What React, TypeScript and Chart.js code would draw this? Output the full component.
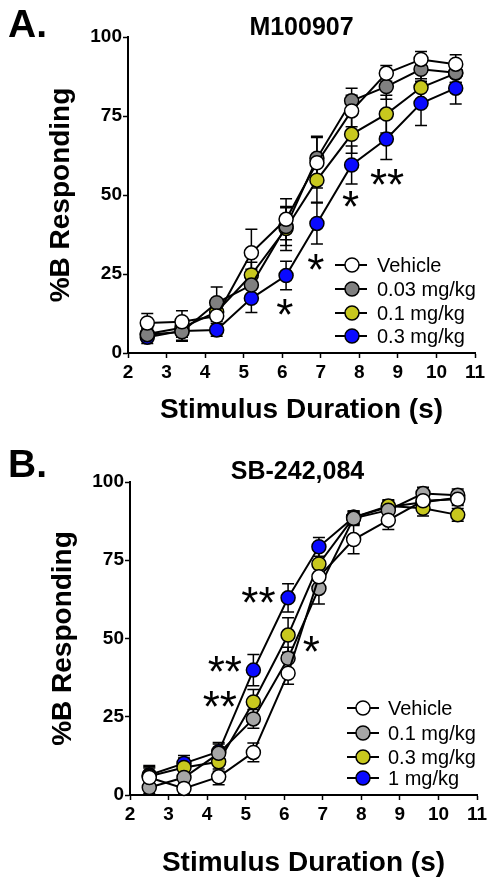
import React, { useEffect, useRef } from 'react';
import { Chart, registerables } from 'chart.js';

Chart.register(...registerables);

// ---------- shared data ----------
const DURATIONS = [2.5, 3.4, 4.3, 5.2, 6.1, 6.9, 7.8, 8.7, 9.6, 10.5];
const X_TICKS = [2, 3, 4, 5, 6, 7, 8, 9, 10, 11];
const Y_TICKS = [0, 25, 50, 75, 100];

// ---------- panel A: M100907 ----------
const A_TITLE = 'M100907';
const A_LABELS = ['Vehicle', '0.03 mg/kg', '0.1 mg/kg', '0.3 mg/kg'];
const A_VEHICLE = [9.5, 9.9, 11.7, 31.7, 42.3, 60.2, 76.6, 88.5, 92.9, 91.4];
const A_VEHICLE_ERR = [3, 3.5, 3, 7.5, 6.5, 8, 5, 2.5, 2.5, 3];
const A_DOSE1 = [5.8, 6.7, 15.9, 21.5, 40, 61.6, 79.8, 84.3, 89.8, 88.7];
const A_DOSE1_ERR = [2, 3, 5, 5, 6, 7, 4, 4, 3, 3];
const A_DOSE2 = [6, 8, 13, 24.7, 39.4, 54.7, 69.2, 75.6, 84, 88.5];
const A_DOSE2_ERR = [2, 3, 3, 4, 7, 7, 6, 6, 5, 3];
const A_DOSE3 = [5, 7, 7.3, 17.3, 24.5, 41, 59.5, 67.7, 79, 83.8];
const A_DOSE3_ERR = [2, 3, 2, 4.5, 4.5, 6.5, 6, 6.5, 7, 5];
const A_STAR_X = [6.07, 6.87, 7.77, 8.72];
const A_STAR_Y = [15.2, 29.4, 49.5, 56.3];
const A_STAR_TEXT = ['*', '*', '*', '**'];

// ---------- panel B: SB-242,084 ----------
const B_TITLE = 'SB-242,084';
const B_LABELS = ['Vehicle', '0.1 mg/kg', '0.3 mg/kg', '1 mg/kg'];
const B_VEHICLE = [5.6, 2.1, 5.8, 13.6, 38.9, 69.7, 81.6, 87.8, 94, 94.5];
const B_VEHICLE_ERR = [3, 1.5, 2.5, 3, 3.5, 4, 4.5, 3, 3, 2];
const B_DOSE1 = [2.4, 5.6, 13.3, 24.3, 43.7, 66, 88.4, 91, 96.3, 95.8];
const B_DOSE1_ERR = [2, 3, 3, 3, 3.5, 5, 2, 2, 2, 2];
const B_DOSE2 = [6, 8.8, 10.6, 29.7, 51.1, 73.8, 88.7, 92.3, 91.6, 89.5];
const B_DOSE2_ERR = [3, 3, 3, 4, 5.5, 4.5, 2, 2, 2.5, 2];
const B_DOSE3 = [6.4, 10.1, 13.8, 39.9, 63, 79.3, 88.7, 92, 93.5, 95];
const B_DOSE3_ERR = [3, 2.5, 3, 5, 4.5, 3, 2, 2, 2, 2];
const B_STAR_X = [4.33, 4.46, 5.33, 6.7];
const B_STAR_Y = [31.3, 42.5, 64.4, 49];
const B_STAR_TEXT = ['**', '**', '**', '*'];

const FONT = '"Liberation Sans", Arial, Helvetica, sans-serif';

type PanelCfg = {
  letter: string;
  title: string;
  labels: string[];
  series: number[][];
  errors: number[][];
  colors: string[];
  starX: number[];
  starY: number[];
  starText: string[];
  width: number;
  height: number;
  left: number;
  top: number;
  right: number;
  bottom: number;
  yTitlePad: number;
  xTitlePad: number;
  titleY: number;
  titleDX: number;
  letterY: number;
  legendDX: number[];
  legendRows: number[];
};

function makePlugin(cfg: PanelCfg) {
  return {
    id: 'panelExtras',
    beforeDatasetsDraw(chart: any) {
      const ctx = chart.ctx;
      const xs = chart.scales.x;
      const ys = chart.scales.y;
      ctx.save();
      ctx.strokeStyle = '#000';
      ctx.lineWidth = 1.5;
      for (let s = cfg.series.length - 1; s >= 0; s--) {
        const vals = cfg.series[s];
        const errs = cfg.errors[s];
        for (let i = 0; i < vals.length; i++) {
          const px = xs.getPixelForValue(DURATIONS[i]);
          const yTop = ys.getPixelForValue(vals[i] + errs[i]);
          const yBot = ys.getPixelForValue(vals[i] - errs[i]);
          ctx.beginPath();
          ctx.moveTo(px, yTop);
          ctx.lineTo(px, yBot);
          ctx.moveTo(px - 6, yTop);
          ctx.lineTo(px + 6, yTop);
          ctx.moveTo(px - 6, yBot);
          ctx.lineTo(px + 6, yBot);
          ctx.stroke();
        }
      }
      ctx.restore();
    },
    afterDraw(chart: any) {
      const ctx = chart.ctx;
      const area = chart.chartArea;
      const xs = chart.scales.x;
      const ys = chart.scales.y;
      ctx.save();
      ctx.fillStyle = '#000';
      ctx.font = `bold 39px ${FONT}`;
      ctx.textAlign = 'left';
      ctx.textBaseline = 'alphabetic';
      ctx.fillText(cfg.letter, 8, cfg.letterY);
      ctx.font = `bold 25px ${FONT}`;
      ctx.textAlign = 'center';
      ctx.textBaseline = 'middle';
      ctx.fillText(cfg.title, (area.left + area.right) / 2 + cfg.titleDX, cfg.titleY);
      ctx.font = `44px ${FONT}`;
      ctx.textAlign = 'center';
      ctx.textBaseline = 'alphabetic';
      for (let i = 0; i < cfg.starX.length; i++) {
        const px = xs.getPixelForValue(cfg.starX[i]);
        const py = ys.getPixelForValue(cfg.starY[i]);
        ctx.fillText(cfg.starText[i], px, py + 25);
      }
      const [l0, lm, l1, lt] = cfg.legendDX;
      for (let i = 0; i < cfg.labels.length; i++) {
        const y = area.bottom + cfg.legendRows[i];
        ctx.strokeStyle = '#000';
        ctx.lineWidth = 2;
        ctx.beginPath();
        ctx.moveTo(area.right + l0, y);
        ctx.lineTo(area.right + l1, y);
        ctx.stroke();
        ctx.beginPath();
        ctx.arc(area.right + lm, y, 7, 0, Math.PI * 2);
        ctx.fillStyle = cfg.colors[i];
        ctx.fill();
        ctx.lineWidth = 1.5;
        ctx.stroke();
        ctx.fillStyle = '#000';
        ctx.font = `20px ${FONT}`;
        ctx.textAlign = 'left';
        ctx.textBaseline = 'middle';
        ctx.fillText(cfg.labels[i], area.right + lt, y + 1);
      }
      ctx.restore();
    },
  };
}

function Panel({ cfg }: { cfg: PanelCfg }) {
  const ref = useRef<HTMLCanvasElement | null>(null);
  useEffect(() => {
    if (!ref.current) return;
    const datasets = cfg.series.map((vals, s) => ({
      label: cfg.labels[s],
      data: vals.map((v, i) => ({ x: DURATIONS[i], y: v })),
      borderColor: '#000',
      borderWidth: 2,
      pointRadius: 7,
      pointHoverRadius: 7,
      pointBorderWidth: 1.5,
      pointBorderColor: '#000',
      pointBackgroundColor: cfg.colors[s],
      backgroundColor: cfg.colors[s],
      tension: 0,
      fill: false,
      clip: false as any,
    }));
    const chart = new Chart(ref.current, {
      type: 'line',
      data: { datasets },
      options: {
        responsive: false,
        animation: false,
        events: [],
        layout: { padding: { top: cfg.top, right: cfg.right, left: 0, bottom: 0 } },
        plugins: {
          legend: { display: false },
          title: { display: false },
          tooltip: { enabled: false },
        },
        scales: {
          x: {
            type: 'linear',
            min: 2,
            max: 11,
            afterBuildTicks: (s: any) => {
              s.ticks = X_TICKS.map((v) => ({ value: v }));
            },
            afterFit: (s: any) => {
              s.height = cfg.bottom;
            },
            ticks: {
              autoSkip: false,
              maxRotation: 0,
              padding: 3,
              color: '#000',
              font: { family: FONT, size: 19, weight: 'bold' },
            },
            grid: {
              display: true,
              drawOnChartArea: false,
              drawTicks: true,
              tickLength: 5,
              tickColor: '#000',
              tickWidth: 1.5,
            },
            border: { display: true, color: '#000', width: 2 },
            title: {
              display: true,
              text: 'Stimulus Duration (s)',
              color: '#000',
              font: { family: FONT, size: 28, weight: 'bold' },
              padding: { top: 0, bottom: cfg.xTitlePad },
            },
          },
          y: {
            type: 'linear',
            min: 0,
            max: 100,
            afterBuildTicks: (s: any) => {
              s.ticks = Y_TICKS.map((v) => ({ value: v }));
            },
            afterFit: (s: any) => {
              s.width = cfg.left;
            },
            ticks: {
              padding: 1,
              color: '#000',
              font: { family: FONT, size: 19, weight: 'bold' },
            },
            grid: {
              display: true,
              drawOnChartArea: false,
              drawTicks: true,
              tickLength: 5,
              tickColor: '#000',
              tickWidth: 1.5,
            },
            border: { display: true, color: '#000', width: 2 },
            title: {
              display: true,
              text: '%B Responding',
              color: '#000',
              font: { family: FONT, size: 28, weight: 'bold' },
              padding: { top: cfg.yTitlePad, bottom: 0 },
            },
          },
        },
      } as any,
      plugins: [makePlugin(cfg) as any],
    });
    return () => chart.destroy();
  }, [cfg]);
  return (
    <canvas
      ref={ref}
      width={cfg.width}
      height={cfg.height}
      style={{ display: 'block', width: cfg.width, height: cfg.height }}
    />
  );
}

const PANEL_A: PanelCfg = {
  letter: 'A.',
  title: A_TITLE,
  labels: A_LABELS,
  series: [A_VEHICLE, A_DOSE1, A_DOSE2, A_DOSE3],
  errors: [A_VEHICLE_ERR, A_DOSE1_ERR, A_DOSE2_ERR, A_DOSE3_ERR],
  colors: ['#ffffff', '#808080', '#c8c81e', '#0a0aff'],
  starX: A_STAR_X,
  starY: A_STAR_Y,
  starText: A_STAR_TEXT,
  width: 493,
  height: 442,
  left: 128,
  top: 37,
  right: 18,
  bottom: 89,
  yTitlePad: 44,
  xTitlePad: 15,
  titleY: 28,
  titleDX: 0,
  letterY: 37,
  legendDX: [-140, -123, -108, -98],
  legendRows: [-88, -64, -40, -17],
};

const PANEL_B: PanelCfg = {
  letter: 'B.',
  title: B_TITLE,
  labels: B_LABELS,
  series: [B_VEHICLE, B_DOSE1, B_DOSE2, B_DOSE3],
  errors: [B_VEHICLE_ERR, B_DOSE1_ERR, B_DOSE2_ERR, B_DOSE3_ERR],
  colors: ['#ffffff', '#a6a6a6', '#c8c81e', '#0a0aff'],
  starX: B_STAR_X,
  starY: B_STAR_Y,
  starText: B_STAR_TEXT,
  width: 493,
  height: 443,
  left: 130,
  top: 40,
  right: 16,
  bottom: 90,
  yTitlePad: 46,
  xTitlePad: 5,
  titleY: 30,
  titleDX: -6,
  letterY: 35,
  legendDX: [-130, -114, -98, -89],
  legendRows: [-87, -62, -38, -17],
};

export default function App() {
  return (
    <div
      style={{
        position: 'absolute',
        left: 0,
        top: 0,
        width: 493,
        height: 885,
        background: '#fff',
      }}
    >
      <Panel cfg={PANEL_A} />
      <Panel cfg={PANEL_B} />
    </div>
  );
}
